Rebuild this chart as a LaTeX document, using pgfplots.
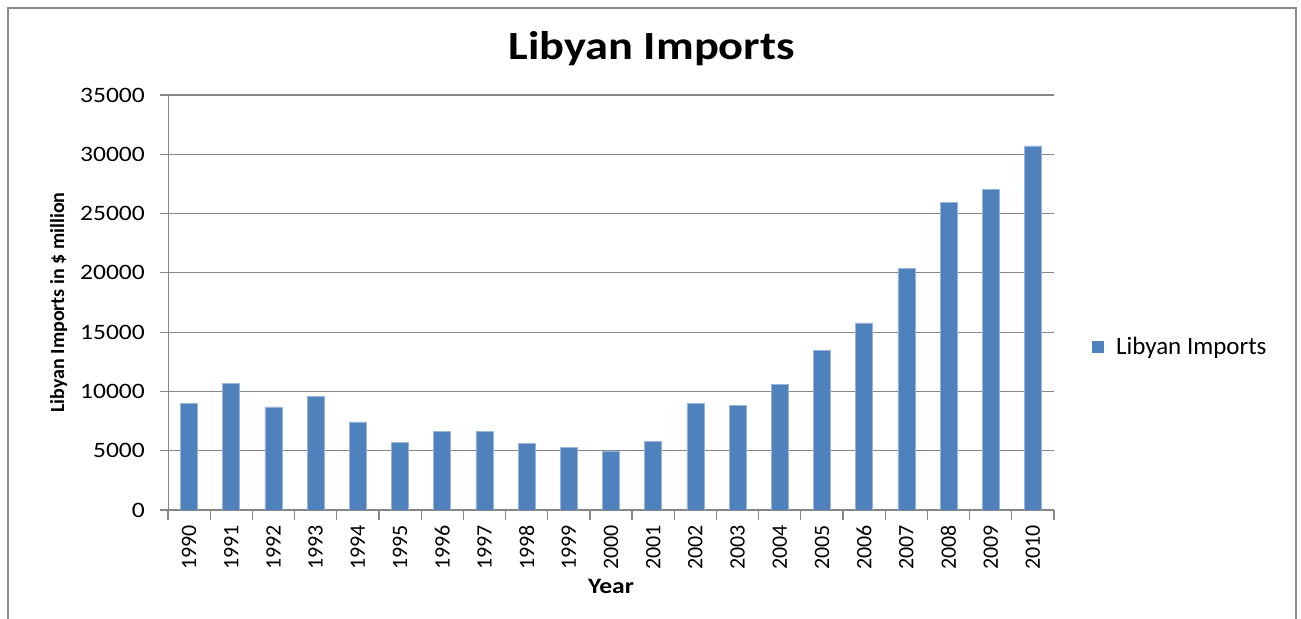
\documentclass[border=0pt]{standalone}
\usepackage{pgfplots}
\pgfplotsset{compat=1.18}
\usepackage{fontspec}
\setmainfont{Carlito}
\definecolor{barblue}{RGB}{79,129,189}
\definecolor{baredge}{RGB}{150,180,220}
\definecolor{gridgray}{RGB}{134,134,134}
\begin{document}
\begin{tikzpicture}
\useasboundingbox (0,0) rectangle (650.5pt,309.5pt);
\draw[gray!90, line width=0.9pt] (4pt,0) -- (4pt,305.5pt) -- (648pt,305.5pt) -- (648pt,0);
\begin{axis}[
    at={(84pt,54.5pt)}, anchor=south west,
    scale only axis, width=443pt, height=207.5pt,
    ybar, bar width=8.5pt,
    xmin=-0.5, xmax=20.5, ymin=0, ymax=35000,
    axis x line*=bottom, axis y line*=left,
    axis line style={draw=gridgray, -},
    tick align=outside, major tick length=4pt,
    tick style={draw=gridgray, line width=0.6pt},
    ymajorgrids, grid style={draw=gridgray, line width=0.6pt},
    scaled y ticks=false,
    xtick={0,...,20},
    xticklabels={1990,1991,1992,1993,1994,1995,1996,1997,1998,1999,2000,
                 2001,2002,2003,2004,2005,2006,2007,2008,2009,2010},
    major x tick style={draw=none},
    x tick label style={rotate=90, anchor=east, font=\fontsize{11}{13}\selectfont},
    extra x ticks={-0.5,0.5,...,20.5}, extra x tick labels={},
    extra x tick style={major x tick style={draw=gridgray}, major tick length=5pt, grid=none},
    ytick={0,5000,...,35000},
    yticklabels={0,5000,10000,15000,20000,25000,30000,35000},
    y tick label style={font=\fontsize{11}{13}\selectfont, xscale=1.16, xshift=-3pt},
    ylabel={Libyan Imports in \$ million},
    ylabel style={font=\fontsize{10}{12}\selectfont\bfseries, yshift=-1pt},
    xlabel={Year},
    xlabel style={font=\fontsize{11}{13}\selectfont\bfseries, xscale=1.16, yshift=11pt},
    title={Libyan Imports},
    title style={at={(axis description cs:0.546,1.082)}, anchor=center,
                 font=\fontsize{20}{24}\selectfont\bfseries, xscale=1.16},
    legend style={at={(axis description cs:1.036,0.393)}, anchor=west, draw=none, fill=none,
                  font=\fontsize{12.5}{14}\selectfont,
                  /tikz/every odd column/.append style={column sep=4pt}},
    legend image code/.code={\fill[barblue] (0pt,-2.8pt) rectangle (5.6pt,2.8pt);},
]
\addplot[fill=barblue, draw=baredge, line width=0.3pt] coordinates {
    (0,8960) (1,10700) (2,8700) (3,9550) (4,7430) (5,5680) (6,6610)
    (7,6610) (8,5590) (9,5250) (10,4970) (11,5760) (12,9000) (13,8790)
    (14,10620) (15,13440) (16,15780) (17,20360) (18,25950) (19,27020) (20,30710)
};
\addlegendentry{Libyan Imports}
\end{axis}
\end{tikzpicture}
\end{document}
